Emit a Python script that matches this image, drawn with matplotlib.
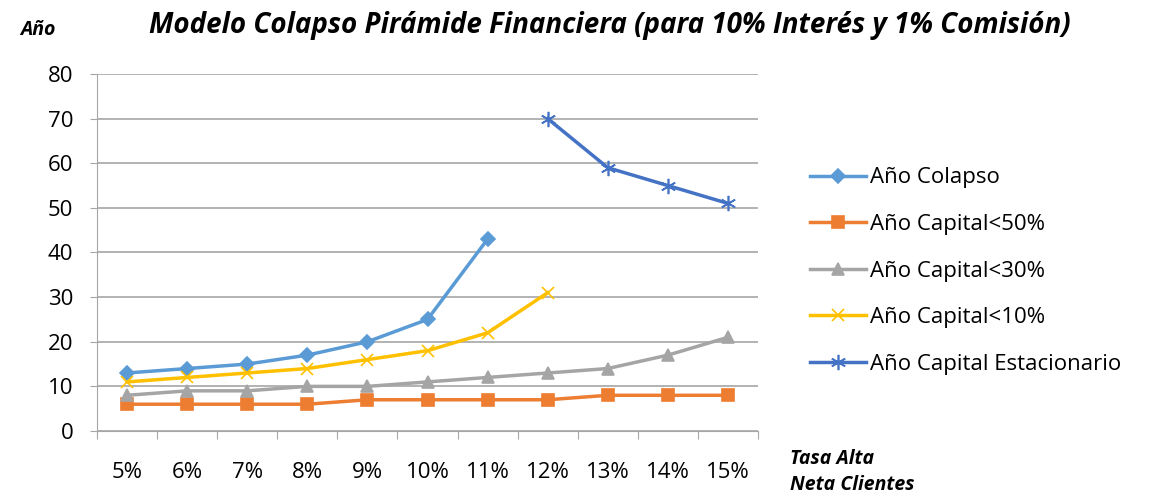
import matplotlib
matplotlib.use("Agg")
import matplotlib.pyplot as plt
import numpy as np

plt.rcParams['font.family'] = ['Open Sans', 'DejaVu Sans']

categories = ["5%", "6%", "7%", "8%", "9%", "10%", "11%", "12%", "13%", "14%", "15%"]
colapso = [13, 14, 15, 17, 20, 25, 43, None, None, None, None]
cap50 = [6, 6, 6, 6, 7, 7, 7, 7, 8, 8, 8]
cap30 = [8, 9, 9, 10, 10, 11, 12, 13, 14, 17, 21]
cap10 = [11, 12, 13, 14, 16, 18, 22, 31, None, None, None]
estacionario = [None, None, None, None, None, None, None, 70, 59, 55, 51]

series = [
    ("Año Colapso", colapso, "#5B9BD5", "D", 7),
    ("Año Capital<50%", cap50, "#ED7D31", "s", 9),
    ("Año Capital<30%", cap30, "#A5A5A5", "^", 9),
    ("Año Capital<10%", cap10, "#FFC000", "x", 9),
    ("Año Capital Estacionario", estacionario, "#4472C4", (6, 2, 0), 11),
]

fig = plt.figure(figsize=(11.5, 4.98), dpi=100)
ax = fig.add_axes([97/1150, 1-431/498, (758-97)/1150, (431-74)/498])

x = np.arange(len(categories))
for name, vals, col, mk, ms in series:
    y = np.array([np.nan if v is None else v for v in vals], dtype=float)
    ax.plot(x, y, color=col, lw=2.5, marker=mk, markersize=ms, markeredgewidth=1.2,
            markerfacecolor=col, markeredgecolor=col, label=name)

ax.set_xlim(-0.5, len(categories) - 0.5)
ax.set_ylim(0, 80)
ax.set_yticks(range(0, 81, 10))
ax.yaxis.grid(True, color="#a6a6a6", lw=1.2)
ax.set_axisbelow(True)
ax.set_xticks(np.arange(-0.5, len(categories), 1))
ax.set_xticklabels([])
ax.set_xticks(x, minor=True)
ax.set_xticklabels(categories, minor=True)
ax.tick_params(axis='x', which='major', length=6, color="#a6a6a6", direction='out')
ax.tick_params(axis='x', which='minor', length=0, labelsize=16, pad=22)
ax.tick_params(axis='y', length=5, color="#a6a6a6", labelsize=16, pad=12)
for s in ["top", "right"]:
    ax.spines[s].set_visible(False)
ax.spines["left"].set_color("#a6a6a6")
ax.spines["bottom"].set_color("#a6a6a6")

fig.text(610/1150, 1-25/498, "Modelo Colapso Pirámide Financiera (para 10% Interés y 1% Comisión)",
         ha="center", va="center", fontsize=20, fontweight="bold", style="italic")
fig.text(20/1150, 1-30/498, "Año", ha="left", va="center", fontsize=14,
         fontweight="bold", style="italic")
fig.text(790/1150, 1-472/498, "Tasa Alta\nNeta Clientes", ha="left", va="center", fontsize=14,
         fontweight="bold", style="italic", linespacing=1.45)

ax.legend(loc="center left", bbox_to_anchor=(790/1150, 1-271/498), bbox_transform=fig.transFigure,
          frameon=False, fontsize=16, handlelength=2.5, labelspacing=1.15, handletextpad=0.2)

fig.savefig("out.png", dpi=100)
